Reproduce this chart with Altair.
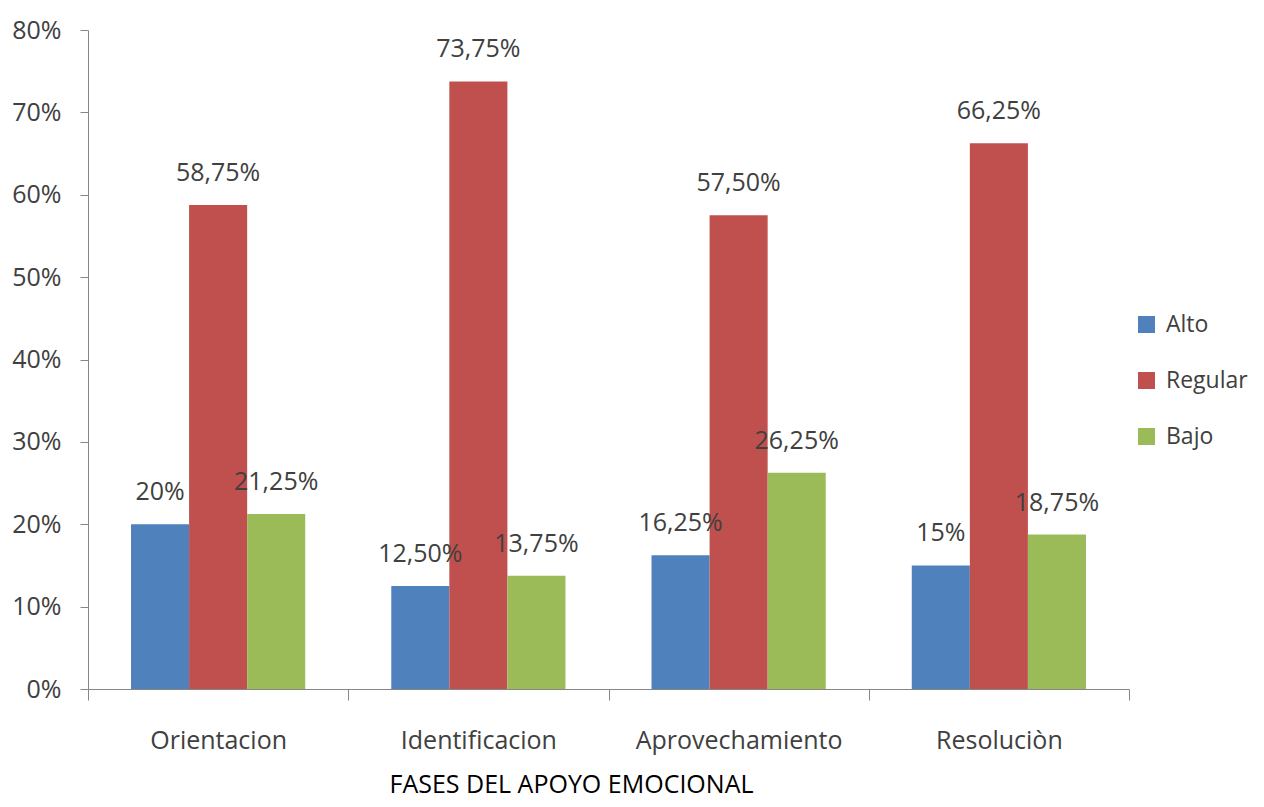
import altair as alt
import pandas as pd

fases = ["Orientacion", "Identificacion", "Aprovechamiento", "Resoluciòn"]
niveles = ["Alto", "Regular", "Bajo"]
colores = ["#4F81BD", "#C0504D", "#9BBB59"]

alto = [20.0, 12.5, 16.25, 15.0]
regular = [58.75, 73.75, 57.5, 66.25]
bajo = [21.25, 13.75, 26.25, 18.75]

etiquetas_alto = ["20%", "12,50%", "16,25%", "15%"]
etiquetas_regular = ["58,75%", "73,75%", "57,50%", "66,25%"]
etiquetas_bajo = ["21,25%", "13,75%", "26,25%", "18,75%"]

y_ticks = [0, 0.1, 0.2, 0.3, 0.4, 0.5, 0.6, 0.7, 0.8]

rows = []
for nivel, vals, etqs in [("Alto", alto, etiquetas_alto),
                          ("Regular", regular, etiquetas_regular),
                          ("Bajo", bajo, etiquetas_bajo)]:
    for f, v, e in zip(fases, vals, etqs):
        rows.append({"fase": f, "nivel": nivel, "valor": v / 100.0, "etiqueta": e})
df = pd.DataFrame(rows)

FONT = "Open Sans"
GRAY = "#404040"
AXIS = "#868686"

base = alt.Chart(df).encode(
    x=alt.X(
        "fase:N",
        sort=fases,
        scale=alt.Scale(paddingInner=0, paddingOuter=0),
        axis=alt.Axis(
            title="FASES DEL APOYO EMOCIONAL",
            labelAngle=0,
            tickBand="extent",
            tickSize=11,
            labelPadding=28,
            labelFontSize=25,
            labelFont=FONT,
            labelColor=GRAY,
            labelLimit=400,
            domainColor=AXIS,
            tickColor=AXIS,
            titleFont=FONT,
            titleFontSize=25,
            titleFontWeight="normal",
            titleColor="#000000",
            titleX=483,
            titleY=103,
            titleAlign="center",
            titleBaseline="alphabetic",
        ),
    ),
    xOffset=alt.XOffset(
        "nivel:N",
        sort=niveles,
        scale=alt.Scale(paddingInner=0, paddingOuter=0.741),
    ),
    y=alt.Y(
        "valor:Q",
        scale=alt.Scale(domain=[0, 0.8], nice=False),
        axis=alt.Axis(
            title=None,
            format=".0%",
            values=y_ticks,
            grid=False,
            tickSize=8,
            labelPadding=19,
            labelFontSize=25,
            labelFont=FONT,
            labelColor=GRAY,
            domainColor=AXIS,
            tickColor=AXIS,
        ),
    ),
)

bars = base.mark_bar().encode(
    color=alt.Color(
        "nivel:N",
        sort=niveles,
        scale=alt.Scale(domain=niveles, range=colores),
        legend=alt.Legend(
            title=None,
            orient="none",
            legendX=1047,
            legendY=283,
            symbolType="square",
            symbolSize=290,
            symbolStrokeWidth=0,
            labelFontSize=23,
            labelFont=FONT,
            labelColor=GRAY,
            labelOffset=8,
            rowPadding=32,
        ),
    )
)

text = base.mark_text(
    dy=-24, baseline="alphabetic", fontSize=25, font=FONT, color=GRAY
).encode(text="etiqueta:N")

chart = (
    (bars + text)
    .properties(
        width=1041,
        height=659,
        padding={"left": 80, "top": 22, "right": 127, "bottom": 110},
        autosize=alt.AutoSizeParams(type="none"),
    )
    .configure_view(stroke=None)
)

chart.save("out.html", embed_options={"renderer": "svg", "actions": False})
